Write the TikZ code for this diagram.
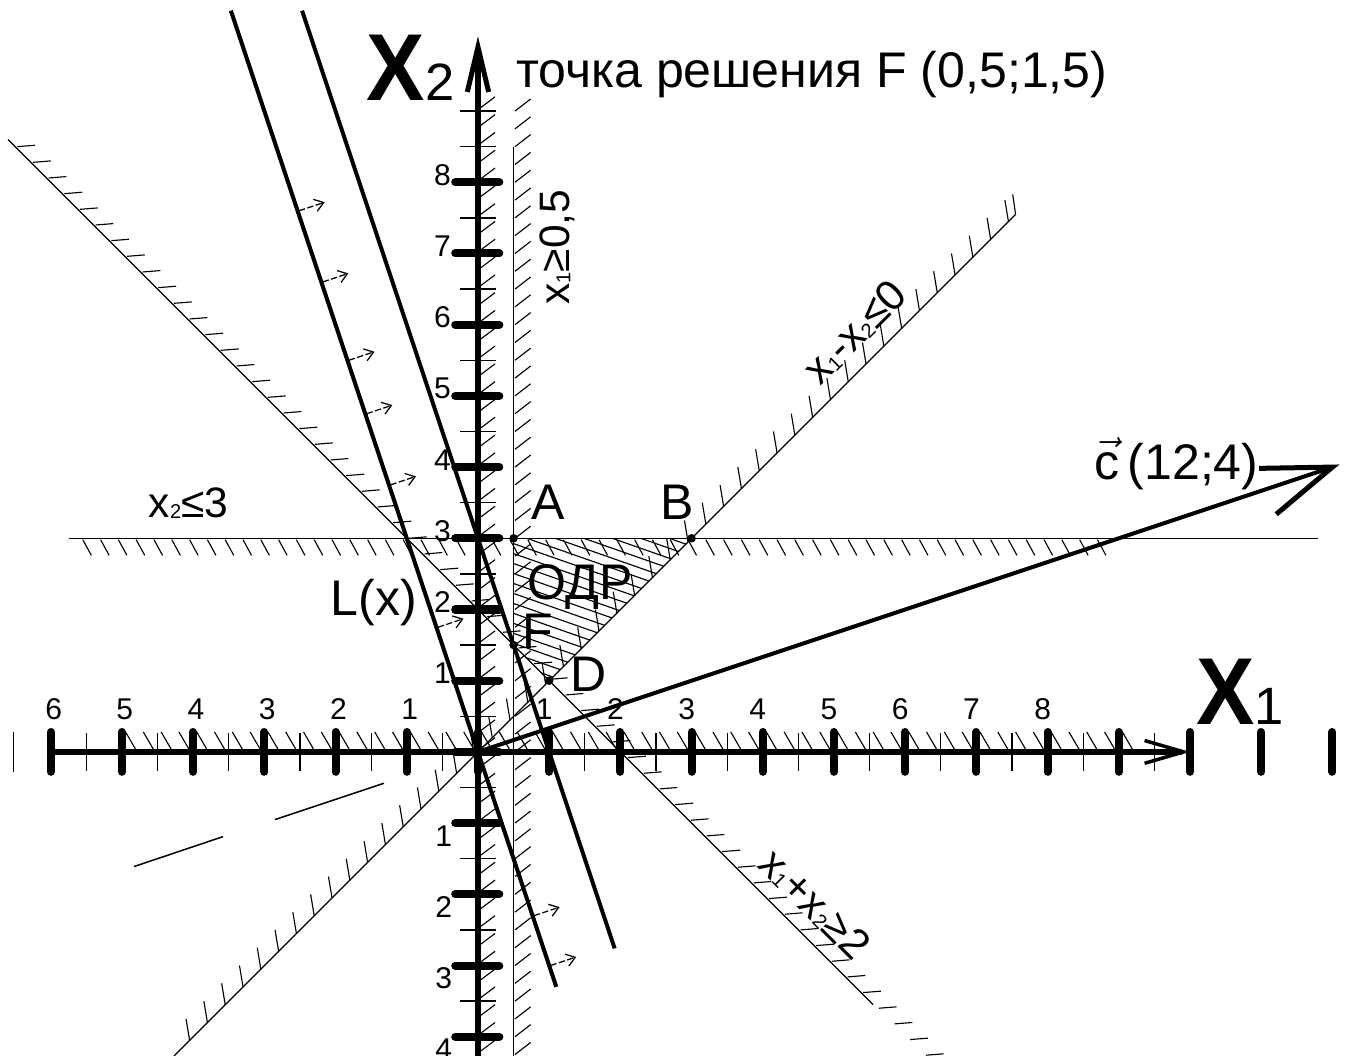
\documentclass[tikz,border=0pt]{standalone}
\usepackage{fontspec}
\usepackage{amsmath}
\usepackage{graphicx}
\setmainfont{Liberation Sans}
\usetikzlibrary{arrows.meta}
\newcommand{\lowidx}[1]{\raisebox{-0.5pt}{\fontsize{8}{9}\selectfont #1}}

\begin{document}
\begin{tikzpicture}[x=1cm, y=1cm,
    axisline/.style={line width=2.6pt},
    majortick/.style={line width=3.2pt, line cap=round},
    minortick/.style={line width=0.5pt},
    bound/.style={line width=0.5pt},
    hatch/.style={line width=0.45pt},
    levelline/.style={line width=1.6pt},
    carrow/.style={line width=0.5pt, dash pattern=on 2.5pt off 1pt, -{Straight Barb[length=3.5pt,width=5pt]}},
    dot/.style={circle, fill, inner sep=0pt, minimum size=3.4pt},
    ticklbl/.style={font=\fontsize{12}{14}\selectfont, inner sep=0pt},
    lbl/.style={font=\fontsize{20}{24}\selectfont, inner sep=0pt},
    cnd/.style={font=\fontsize{17}{20}\selectfont, inner sep=0pt},
    axlbl/.style={anchor=base west, inner sep=0pt}]
    \useasboundingbox (-6.713,-4.27) rectangle (12.233,10.56);

    \coordinate (O) at (0,0);
    \coordinate (c) at (12,4);

    % constraint lines with their hatches
    \draw[bound] (0.5,8.5) -- (0.5,-4.3);
    \foreach \k in {0,...,53} \draw[hatch] (0.52,{-4.25+0.25*\k}) -- ++(0.22,0.17);
    \draw[bound] (-5.75,3) -- (11.8,3);
    \foreach \k in {0,...,57} \draw[hatch] ({-5.55+0.25*\k},2.98) -- ++(0.12,-0.22);
    \draw[bound] (-4.27,-4.27) -- (7.55,7.55);
    \foreach \k in {0,...,46} \draw[hatch] ({-4.05+0.25*\k},{-4.05+0.25*\k}) -- ++(-0.05,0.3);
    \draw[hatch] (7.55,7.55) -- ++(-0.04,0.28);
    \draw[bound] (-6.6,8.6) -- (5.55,-3.55);
    \foreach \k in {0,...,58} \draw[hatch] ({-6.47+0.22*\k},{8.5-0.22*\k}) -- ++(0.25,0.02);

    % ODR
    \begin{scope}
        \clip (0.5,3) -- (3,3) -- (1,1) -- (0.5,1.5) -- cycle;
        \foreach \k in {0,...,20} \draw[hatch] (0.4,{1.14+0.14*\k}) -- ++(2.8,-0.98);
    \end{scope}

    % axes
    \foreach \k in {0,...,53} \draw[hatch] (0.04,{-4.2+0.25*\k}) -- ++(0.2,0.15);
    \foreach \k in {0,...,56} \draw[hatch] ({-4.95+0.25*\k},0.28) -- ++(0.14,-0.24);
    \draw[axisline, -{Straight Barb[length=0.55cm, width=0.32cm, line width=1.4pt]}] (-6.05,0) -- (10,0);
    \draw[axisline, -{Straight Barb[length=0.63cm, width=0.3cm, line width=2pt]}] (0,-4.3) -- (0,10.05);
    \foreach \i in {-6,...,12} \draw[majortick] (\i,-0.28) -- (\i,0.28);
    \foreach \i in {-6,...,9} \draw[minortick] ({\i+0.5},-0.27) -- ++(0,0.54);
    \draw[minortick] (-6.52,-0.28) -- ++(0,0.56);
    \foreach \i in {-4,...,8} \draw[majortick] (-0.32,\i) -- (0.3,\i);
    \foreach \i in {-4,...,8} \draw[minortick] (-0.25,{\i+0.5}) -- ++(0.5,0);
    \draw[minortick] (-0.25,9) -- ++(0.5,0);

    \foreach \n in {1,...,6} \node[ticklbl] (xm\n) at ({-\n+0.04},0.6) {\n};
    \foreach \n in {1,...,8} \node[ticklbl] (xp\n) at ({\n-0.07},0.6) {\n};
    \foreach \n in {1,...,8} \node[ticklbl] (yp\n) at (-0.5,{\n+0.1}) {\n};
    \foreach \n in {1,...,4} \node[ticklbl] (ym\n) at (-0.48,{-\n-0.18}) {\n};

    \node[axlbl] (X2) at (-1.57,9.15) {\fontsize{38}{40}\selectfont\scalebox{0.92}[1]{\bfseries X}\fontsize{21}{24}\selectfont 2};
    \node[axlbl] (X1) at (10.08,0.38) {\fontsize{38}{40}\selectfont\scalebox{0.92}[1]{\bfseries X}\fontsize{21}{24}\selectfont 1};

    % level lines of L(x)
    \draw[levelline] (-3.47,10.41) -- (1.1,-3.3);
    \draw[levelline] (-2.47,10.41) -- (1.92,-2.76);
    \foreach \v in {7.6,6.6,5.5,4.75,3.75,1.75,-2.3,-3.0}
        \draw[carrow] ({-\v/3+0.02},\v) -- ++(0.36,0.12);

    % vector c
    \draw[levelline] (O) -- (c);
    \draw[line width=2pt] (c) ++(181:1.03) -- (c) -- ++(220:1.03);
    \draw[line width=0.6pt] (-2.85,-0.95) -- (-1.32,-0.44);
    \draw[line width=0.6pt] (-4.83,-1.61) -- (-3.58,-1.19);

    % points
    \node[dot] (A) at (0.5,3) {};
    \node[dot] (B) at (3,3) {};
    \node[dot] (F) at (0.5,1.5) {};
    \node[dot] (D) at (1,1) {};
    \node[lbl] (Alab) at (0.98,3.5) {A};
    \node[lbl] (Blab) at (2.8,3.5) {B};
    \node[lbl] (Flab) at (0.84,1.7) {F};
    \node[lbl] (Dlab) at (1.55,1.09) {D};
    \node[lbl] (odr) at (1.43,2.31) {ОДР};
    \node[lbl] (Lx) at (-1.46,2.1) {L(x)};

    \node[lbl, anchor=base west] (title) at (0.53,9.33) {точка решения F (0,5;1,5)};
    \node[cnd, anchor=base west] (cx2) at (-4.63,3.29) {x\lowidx{2}≤3};
    \node[cnd, rotate=90] (cx1) at (1.11,7.09) {x\lowidx{1}≥0,5};
    \node[cnd, rotate=45] (cdiff) at (5.29,5.9) {x\lowidx{1}-x\lowidx{2}≤0};
    \node[cnd, rotate=-45] (csum) at (4.73,-2.14) {x\lowidx{1}+x\lowidx{2}≥2};
    \node[lbl, anchor=west] (clab) at (8.65,4.05) {$\vec{\text{c}}$\,(12;4)};
\end{tikzpicture}
\end{document}
